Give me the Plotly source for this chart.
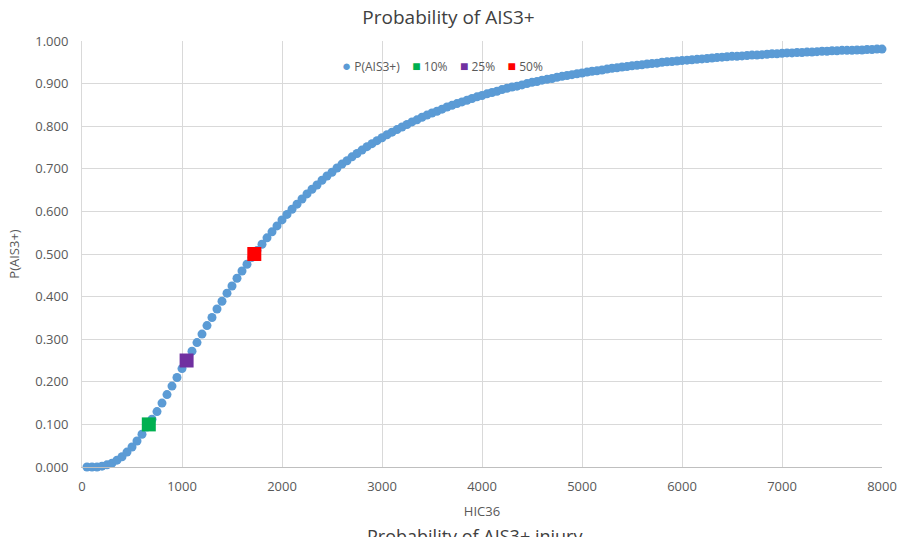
import plotly.graph_objects as go

# HIC36 sample points and the AIS3+ injury probability at each one
hic36 = [
    50, 100, 150, 200, 250, 300, 350, 400, 450, 500,
    550, 600, 650, 700, 750, 800, 850, 900, 950, 1000,
    1050, 1100, 1150, 1200, 1250, 1300, 1350, 1400, 1450, 1500,
    1550, 1600, 1650, 1700, 1750, 1800, 1850, 1900, 1950, 2000,
    2050, 2100, 2150, 2200, 2250, 2300, 2350, 2400, 2450, 2500,
    2550, 2600, 2650, 2700, 2750, 2800, 2850, 2900, 2950, 3000,
    3050, 3100, 3150, 3200, 3250, 3300, 3350, 3400, 3450, 3500,
    3550, 3600, 3650, 3700, 3750, 3800, 3850, 3900, 3950, 4000,
    4050, 4100, 4150, 4200, 4250, 4300, 4350, 4400, 4450, 4500,
    4550, 4600, 4650, 4700, 4750, 4800, 4850, 4900, 4950, 5000,
    5050, 5100, 5150, 5200, 5250, 5300, 5350, 5400, 5450, 5500,
    5550, 5600, 5650, 5700, 5750, 5800, 5850, 5900, 5950, 6000,
    6050, 6100, 6150, 6200, 6250, 6300, 6350, 6400, 6450, 6500,
    6550, 6600, 6650, 6700, 6750, 6800, 6850, 6900, 6950, 7000,
    7050, 7100, 7150, 7200, 7250, 7300, 7350, 7400, 7450, 7500,
    7550, 7600, 7650, 7700, 7750, 7800, 7850, 7900, 7950, 8000,
]
p_ais3 = [
    0.000, 0.000, 0.000, 0.002, 0.005, 0.009, 0.016, 0.024, 0.035, 0.047,
    0.061, 0.077, 0.094, 0.112, 0.130, 0.150, 0.170, 0.190, 0.210, 0.231,
    0.251, 0.272, 0.292, 0.312, 0.332, 0.351, 0.371, 0.389, 0.408, 0.425,
    0.443, 0.460, 0.476, 0.492, 0.508, 0.523, 0.538, 0.552, 0.566, 0.580,
    0.593, 0.605, 0.617, 0.629, 0.641, 0.652, 0.662, 0.673, 0.683, 0.692,
    0.702, 0.711, 0.719, 0.728, 0.736, 0.744, 0.752, 0.759, 0.766, 0.773,
    0.780, 0.786, 0.792, 0.798, 0.804, 0.810, 0.815, 0.821, 0.826, 0.831,
    0.835, 0.840, 0.845, 0.849, 0.853, 0.857, 0.861, 0.865, 0.869, 0.872,
    0.876, 0.879, 0.882, 0.886, 0.889, 0.892, 0.894, 0.897, 0.900, 0.903,
    0.905, 0.908, 0.910, 0.912, 0.915, 0.917, 0.919, 0.921, 0.923, 0.925,
    0.927, 0.929, 0.930, 0.932, 0.934, 0.936, 0.937, 0.939, 0.940, 0.942,
    0.943, 0.944, 0.946, 0.947, 0.948, 0.950, 0.951, 0.952, 0.953, 0.954,
    0.955, 0.956, 0.957, 0.958, 0.959, 0.960, 0.961, 0.962, 0.963, 0.964,
    0.964, 0.965, 0.966, 0.967, 0.967, 0.968, 0.969, 0.970, 0.970, 0.971,
    0.972, 0.972, 0.973, 0.973, 0.974, 0.974, 0.975, 0.976, 0.976, 0.977,
    0.977, 0.978, 0.978, 0.978, 0.979, 0.979, 0.980, 0.980, 0.981, 0.981,
]

# Risk thresholds highlighted on the curve
threshold_names = ["10%", "25%", "50%"]
threshold_hic = [668, 1046, 1723]
threshold_p = [0.10, 0.25, 0.50]
threshold_colors = ["#00B050", "#7030A0", "#FF0000"]

x_ticks = [0, 1000, 2000, 3000, 4000, 5000, 6000, 7000, 8000]
y_ticks = [0.0, 0.1, 0.2, 0.3, 0.4, 0.5, 0.6, 0.7, 0.8, 0.9, 1.0]

curve_color = "#5B9BD5"
grid_color = "#D9D9D9"
text_color = "#595959"
font_family = "Open Sans, Noto Sans, sans-serif"

fig = go.Figure()
fig.add_trace(go.Scatter(
    x=hic36, y=p_ais3, mode="markers", name="P(AIS3+)",
    marker=dict(symbol="circle", size=9, color=curve_color),
    cliponaxis=False,
))
for name, hx, py, col in zip(threshold_names, threshold_hic, threshold_p, threshold_colors):
    fig.add_trace(go.Scatter(
        x=[hx], y=[py], mode="markers", name=name,
        marker=dict(symbol="square", size=14, color=col),
    ))

# Compact horizontal legend written as a single line of text
legend_parts = [f'<span style="color:{curve_color};font-size:15px">●</span> P(AIS3+)']
for name, col in zip(threshold_names, threshold_colors):
    legend_parts.append(f'<span style="color:{col};font-size:14px">■</span> {name}')
legend_text = "    ".join(legend_parts)

fig.update_layout(
    width=897, height=537,
    margin=dict(l=82, r=15, t=41, b=70),
    paper_bgcolor="white", plot_bgcolor="white",
    showlegend=False,
    font=dict(family=font_family, color=text_color, size=12),
    title=dict(text="Probability of AIS3+", x=0.5, xanchor="center",
               y=0.967, yanchor="middle",
               font=dict(size=19, color="#404040", family=font_family)),
    xaxis=dict(
        range=[0, 8000], tickvals=x_ticks, ticktext=[str(v) for v in x_ticks],
        showgrid=True, gridcolor=grid_color, gridwidth=1,
        showline=True, linecolor="#BFBFBF", linewidth=1, mirror=False,
        zeroline=False, ticks="", tickfont=dict(size=13, color=text_color),
        ticklabelstandoff=7, automargin=False,
        title=dict(text="HIC36", standoff=13, font=dict(size=13, color=text_color)),
    ),
    yaxis=dict(
        range=[0, 1.0], tickvals=y_ticks, tickformat=".3f",
        showgrid=True, gridcolor=grid_color, gridwidth=1,
        showline=True, linecolor=grid_color, linewidth=1,
        zeroline=False, ticks="", tickfont=dict(size=13, color=text_color),
        ticklabelstandoff=10, automargin=False,
        title=dict(text="P(AIS3+)", standoff=12, font=dict(size=13, color=text_color)),
    ),
    annotations=[
        dict(text=legend_text, xref="paper", yref="paper", x=0.451, y=0.944,
             xanchor="center", yanchor="middle", showarrow=False,
             font=dict(size=12, color=text_color, family=font_family)),
        dict(text="Probability of AIS3+ injury", xref="paper", yref="paper",
             x=0.491, y=-0.128, xanchor="center", yanchor="top", showarrow=False,
             font=dict(size=18, color="#404040", family=font_family)),
    ],
)

fig.write_html("out.html")
